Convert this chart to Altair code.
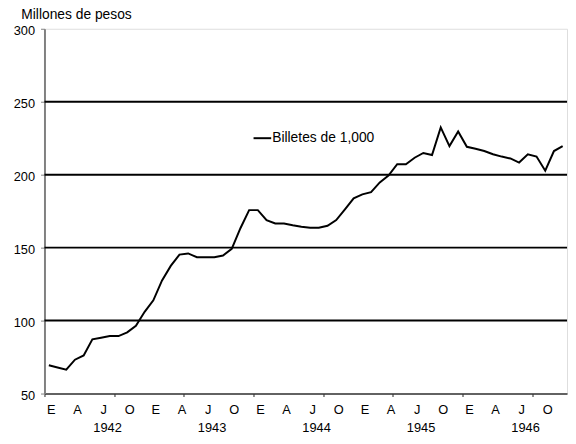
import altair as alt
import pandas as pd

# Billetes de 1,000 pesos en circulación, mensual enero 1942 - diciembre 1946 (millones de pesos)
valores = [69.4, 67.9, 66.4, 73.2, 76.1, 87.2, 88.3, 89.4, 89.4, 91.9, 96.4, 106.0,
           113.9, 127.5, 137.5, 145.2, 146.0, 143.4, 143.4, 143.4, 144.6, 149.2, 163.3, 175.7,
           175.7, 168.9, 166.6, 166.6, 165.3, 164.3, 163.7, 163.7, 165.0, 168.9, 176.2, 183.8,
           186.5, 188.0, 194.7, 199.4, 207.2, 207.2, 211.6, 214.9, 213.5, 232.4, 219.6, 229.6,
           219.1, 217.8, 216.2, 214.0, 212.4, 211.1, 208.3, 214.0, 212.4, 202.7, 216.2, 219.6]
serie = "Billetes de 1,000"
anios = [1942, 1943, 1944, 1945, 1946]
meses_etiquetas = ["E", "A", "J", "O"]
y_ticks = [50, 100, 150, 200, 250, 300]
rejilla = [100, 150, 200, 250]

FONT = "Liberation Sans, Arial, sans-serif"

df = pd.DataFrame({"mes": [i + 0.5 for i in range(len(valores))],
                   "valor": valores,
                   "serie": [serie] * len(valores)})
df_anios = pd.DataFrame({"anio": [str(a) for a in anios],
                         "pos": [(a - anios[0]) * 12 + 6 for a in anios]})
n_trim = len(anios) * 4
df_meses = pd.DataFrame({"letra": [meses_etiquetas[k % 4] for k in range(n_trim)],
                         "pos": [k * 3 for k in range(n_trim)]})
df_grid = pd.DataFrame({"g": rejilla})

xscale = alt.Scale(domain=[0, 60], nice=False, zero=False)
yscale = alt.Scale(domain=[50, 300], nice=False, zero=False)

grid = alt.Chart(df_grid).mark_rule(color="black", strokeWidth=2).encode(
    y=alt.Y("g:Q", scale=yscale)
)

line = alt.Chart(df).mark_line(strokeWidth=2).encode(
    x=alt.X("mes:Q", scale=xscale,
            axis=alt.Axis(values=list(range(61)), labels=False, title=None,
                          grid=False, tickSize=3, tickColor="#222", tickWidth=1,
                          domainColor="#333", domainWidth=1.5)),
    y=alt.Y("valor:Q", scale=yscale,
            axis=alt.Axis(values=y_ticks, grid=False, title="Millones de pesos",
                          titleAngle=0, titleAlign="left", titleBaseline="alphabetic",
                          titleX=-24, titleY=-10, titleFont=FONT, titleFontSize=14,
                          titleFontWeight="normal", titleColor="black",
                          tickSize=4, tickColor="#808080", domainColor="#808080",
                          domainWidth=2, labelFont=FONT, labelFontSize=13,
                          labelColor="black", labelPadding=6, labelOffset=2)),
    color=alt.Color("serie:N", scale=alt.Scale(range=["black"]),
                    legend=alt.Legend(orient="none", legendX=211, legendY=101, title=None,
                                      symbolType="stroke", symbolSize=320,
                                      symbolStrokeWidth=2, labelFont=FONT,
                                      labelFontSize=14, labelColor="black",
                                      labelOffset=0, padding=0)),
)

meses = alt.Chart(df_meses).mark_text(font=FONT, fontSize=13, color="black",
                                       baseline="top", align="center", dx=7).encode(
    x=alt.X("pos:Q", scale=xscale, title=None),
    y=alt.value(380.5),
    text="letra:N",
)

years = alt.Chart(df_anios).mark_text(font=FONT, fontSize=13, color="black",
                                       baseline="alphabetic", align="center", dx=11).encode(
    x=alt.X("pos:Q", scale=xscale, title=None),
    y=alt.value(409),
    text="anio:N",
)

chart = alt.layer(grid, line, meses, years).properties(
    width=530, height=370,
    padding={"left": 37, "top": 18, "right": 1, "bottom": 40},
    autosize=alt.AutoSizeParams(type="none"),
).configure_view(stroke="#808080", strokeWidth=2).configure(background="white")

chart.save("out.html", embed_options={"renderer": "svg", "actions": False})
